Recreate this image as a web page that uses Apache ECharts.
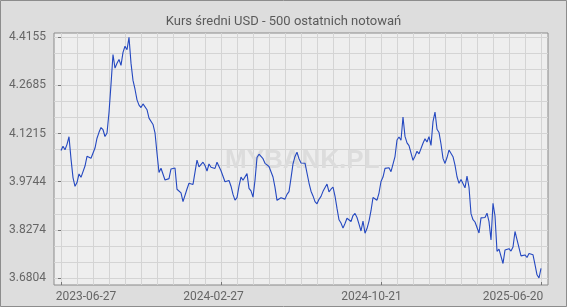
<!DOCTYPE html>
<html>
<head>
<meta charset="utf-8">
<script src="https://cdn.jsdelivr.net/npm/echarts@6/dist/echarts.min.js"></script>
<style>
html,body{margin:0;padding:0;background:#dddddd;}
#c{width:567px;height:307px;}
</style>
</head>
<body>
<div id="c"></div>
<script>
const chartTitle = 'Kurs średni USD - 500 ostatnich notowań';
const xTickLabels = ['2023-06-27', '2024-02-27', '2024-10-21', '2025-06-20'];
const xTickIndex = [0, 80, 160, 240];
const yTickLabels = ['3.6804', '3.8274', '3.9744', '4.1215', '4.2685', '4.4155'];
const usdRate = [
4.0697,4.0825,4.0719,4.0886,4.1118,4.0441,3.9870,3.9604,3.9720,3.9983,
3.9879,3.9857,4.0224,4.0520,4.0505,4.0459,4.0505,4.0773,4.1073,4.1253,
4.1399,4.1332,4.1125,4.1231,4.1860,4.2718,4.3631,4.3213,4.3363,4.3479,
4.3296,4.3696,4.3882,4.3775,4.4155,4.3366,4.2838,4.2569,4.2245,4.2083,
4.2010,4.2120,4.2172,4.1943,4.1686,4.1696,4.1494,4.1238,4.0612,4.0025,
4.0157,4.0111,3.9796,3.9787,3.9839,4.0135,4.0172,4.0163,3.9515,3.9555,
3.9402,3.9134,3.9189,3.9522,3.9696,3.9689,3.9662,4.0035,4.0404,4.0196,
4.0135,4.0340,4.0239,4.0071,4.0285,4.0184,4.0178,4.0151,4.0340,4.0364,
4.0080,4.0041,3.9744,3.9781,3.9781,3.9607,3.9357,3.9183,3.9259,3.9607,
3.9885,3.9790,3.9772,3.9992,3.9543,3.9463,3.9274,3.9790,4.0483,4.0584,
4.0532,4.0447,4.0306,4.0264,4.0209,4.0193,3.9888,3.9573,3.9177,3.9167,
3.9256,3.9302,3.9213,3.9357,3.9442,3.9854,4.0291,4.0517,4.0645,4.0447,
4.0318,4.0294,4.0309,4.0315,3.9705,3.9454,3.9311,3.9137,3.9070,3.9207,
3.9296,3.9451,3.9418,3.9674,3.9433,3.9515,3.9583,3.9308,3.8929,3.8581,
3.8483,3.8328,3.8468,3.8630,3.8676,3.8529,3.8712,3.8776,3.8651,3.8447,
3.8239,3.8544,3.8172,3.8315,3.8541,3.8859,3.9262,3.9250,3.9180,3.9399,
3.9751,3.9888,4.0151,4.0212,4.0169,4.0050,4.0050,4.0514,4.1018,4.1109,
4.1009,4.1720,4.1128,4.0932,4.0847,4.0816,4.0398,4.0523,4.0673,4.0596,
4.0648,4.0920,4.1054,4.0957,4.1122,4.0853,4.1580,4.1872,4.1347,4.1250,
4.0896,4.0456,4.0303,4.0483,4.0712,4.0737,4.0508,4.0254,3.9897,3.9696,
3.9815,3.9818,3.9558,3.9918,3.9576,3.8770,3.8584,3.8514,3.8477,3.8178,
3.8639,3.8599,3.8654,3.8783,3.8526,3.7964,3.9085,3.8697,3.7619,3.7689,
3.7674,3.7247,3.7656,3.7616,3.7699,3.7628,3.7751,3.8224,3.7973,3.7952,
3.7479,3.7467,3.7509,3.7430,3.7552,3.7506,3.7512,3.7210,3.6902,3.6804,
3.7100
];

const yTickValues = yTickLabels.map(Number);
const yStep = (yTickValues[yTickValues.length - 1] - yTickValues[0]) / (yTickValues.length - 1);
const yGridValues = [];
for (let k = 0; k <= 15; k++) yGridValues.push(yTickValues[0] + k * yStep / 3);
const xGridValues = [];
for (let k = 0; k <= usdRate.length - 1; k += 8) xGridValues.push(k);
const yMin = yTickValues[0] - yStep * 7 / 48.15;
const yMax = yTickValues[yTickValues.length - 1] + yStep * 4.3 / 48.15;
const xMin = -3.5, xMax = usdRate.length - 1 + 3.5;

const labelColor = '#666666';
const richX = {
  a: {padding: [0, 0, 0, 50], color: labelColor, fontSize: 12, fontFamily: 'Roboto'},
  b: {padding: [0, 15, 0, 0], color: labelColor, fontSize: 12, fontFamily: 'Roboto'},
  c: {padding: [0, 19, 0, 0], color: labelColor, fontSize: 12, fontFamily: 'Roboto'},
  d: {padding: [0, 56, 0, 0], color: labelColor, fontSize: 12, fontFamily: 'Roboto'}
};
const richKeys = ['a', 'b', 'c', 'd'];

const chart = echarts.init(document.getElementById('c'), null, {renderer: 'canvas'});
chart.setOption({
  animation: false,
  backgroundColor: '#dddddd',
  title: {
    text: chartTitle, left: 'center', top: 10,
    textStyle: {fontSize: 13, fontWeight: 'normal', color: '#5a5a5a', fontFamily: 'Roboto'}
  },
  graphic: [
    {type: 'rect', z: 100, silent: true, shape: {x: 0.5, y: 0.5, width: 566, height: 306},
     style: {fill: 'none', stroke: '#8c8c8c', lineWidth: 1}},
    {type: 'text', z: 1, silent: true, left: 225, top: 148,
     style: {text: 'MYBANK.PL', fill: '#dcdcdc', font: 'bold 26px "Liberation Sans", Arial'}}
  ],
  grid: {
    left: 54, top: 33, width: 494, height: 252,
    show: true, backgroundColor: '#eeeeee', borderColor: '#8a8a8a', borderWidth: 1
  },
  xAxis: [
    {
      type: 'value', min: xMin, max: xMax, gridIndex: 0,
      axisLine: {show: false},
      splitLine: {show: false},
      axisTick: {show: true, inside: true, length: 3, customValues: xTickIndex, lineStyle: {color: '#777'}},
      axisLabel: {
        customValues: xTickIndex, margin: 6, color: labelColor, fontSize: 12, fontFamily: 'Roboto',
        formatter: function (v) {
          const i = xTickIndex.indexOf(Math.round(v));
          return i < 0 ? '' : '{' + richKeys[i] + '|' + xTickLabels[i] + '}';
        },
        rich: richX
      }
    },
    {
      type: 'value', min: xMin, max: xMax, gridIndex: 0, position: 'bottom',
      axisLine: {show: false}, axisLabel: {show: false},
      axisTick: {show: false, customValues: xGridValues},
      splitLine: {show: true, lineStyle: {color: '#d4d4d4', width: 1}}
    }
  ],
  yAxis: [
    {
      type: 'value', min: yMin, max: yMax,
      axisLine: {show: false},
      splitLine: {show: false},
      axisTick: {show: true, length: 3, customValues: yTickValues, lineStyle: {color: '#777'}},
      axisLabel: {
        customValues: yTickValues, margin: 8, color: labelColor, fontSize: 12, fontFamily: 'Roboto',
        formatter: function (v) {
          let best = 0;
          yTickValues.forEach(function (t, i) { if (Math.abs(t - v) < Math.abs(yTickValues[best] - v)) best = i; });
          return yTickLabels[best];
        }
      }
    },
    {
      type: 'value', min: yMin, max: yMax, position: 'left',
      axisLine: {show: false}, axisLabel: {show: false},
      axisTick: {show: false, customValues: yGridValues},
      splitLine: {show: true, lineStyle: {color: '#d4d4d4', width: 1}}
    }
  ],
  series: [{
    type: 'line', xAxisIndex: 0, yAxisIndex: 0, z: 5,
    showSymbol: false, symbol: 'none',
    lineStyle: {color: '#2448c0', width: 1.1},
    data: usdRate.map(function (v, i) { return [i, v]; })
  }]
});
</script>
</body>
</html>
